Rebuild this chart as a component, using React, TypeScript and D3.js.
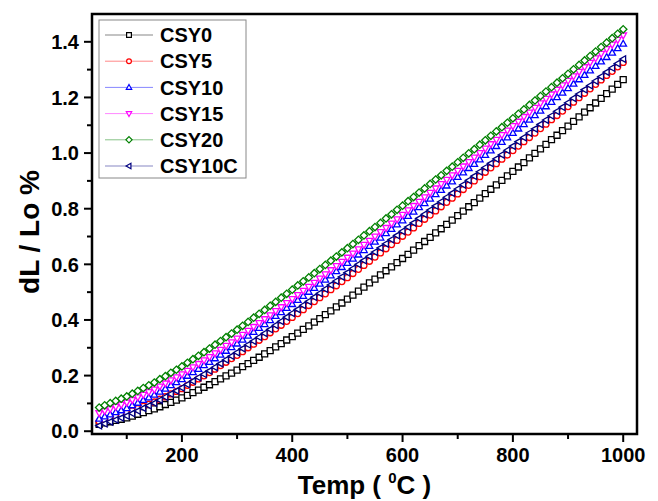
import React from 'react';
import * as d3 from 'd3';

// Temperature grid (°C)
const temps: number[] = d3.range(50, 1001, 10);

const csy0: number[] = [
  0.025, 0.030, 0.034, 0.039, 0.043, 0.048, 0.054, 0.061, 0.067, 0.074,
  0.080, 0.088, 0.096, 0.104, 0.112, 0.120, 0.129, 0.139, 0.148, 0.158,
  0.167, 0.178, 0.188, 0.199, 0.209, 0.220, 0.232, 0.243, 0.255, 0.266,
  0.278, 0.290, 0.303, 0.315, 0.328, 0.340, 0.353, 0.366, 0.379, 0.392,
  0.405, 0.419, 0.433, 0.447, 0.461, 0.475, 0.489, 0.504, 0.518, 0.533,
  0.547, 0.562, 0.577, 0.591, 0.606, 0.621, 0.636, 0.651, 0.667, 0.682,
  0.697, 0.713, 0.728, 0.744, 0.759, 0.775, 0.791, 0.807, 0.822, 0.838,
  0.854, 0.870, 0.886, 0.902, 0.918, 0.934, 0.950, 0.966, 0.983, 0.999,
  1.015, 1.031, 1.048, 1.064, 1.081, 1.097, 1.114, 1.130, 1.147, 1.163,
  1.180, 1.197, 1.214, 1.230, 1.247, 1.264,
];

const csy5: number[] = [
  0.035, 0.041, 0.047, 0.053, 0.059, 0.065, 0.073, 0.081, 0.089, 0.097,
  0.105, 0.115, 0.124, 0.134, 0.143, 0.153, 0.165, 0.176, 0.188, 0.199,
  0.211, 0.223, 0.236, 0.248, 0.261, 0.273, 0.286, 0.300, 0.313, 0.327,
  0.340, 0.354, 0.368, 0.381, 0.395, 0.409, 0.423, 0.437, 0.452, 0.466,
  0.480, 0.494, 0.509, 0.523, 0.538, 0.552, 0.567, 0.582, 0.596, 0.611,
  0.626, 0.641, 0.656, 0.671, 0.686, 0.701, 0.716, 0.731, 0.747, 0.762,
  0.777, 0.792, 0.807, 0.823, 0.838, 0.853, 0.869, 0.884, 0.900, 0.915,
  0.931, 0.947, 0.962, 0.978, 0.993, 1.009, 1.025, 1.041, 1.056, 1.072,
  1.088, 1.104, 1.120, 1.135, 1.151, 1.167, 1.183, 1.199, 1.215, 1.231,
  1.247, 1.263, 1.279, 1.294, 1.310, 1.326,
];

const csy10: number[] = [
  0.045, 0.053, 0.060, 0.068, 0.075, 0.083, 0.093, 0.102, 0.112, 0.121,
  0.131, 0.142, 0.153, 0.165, 0.176, 0.187, 0.199, 0.212, 0.224, 0.237,
  0.249, 0.262, 0.275, 0.289, 0.302, 0.315, 0.329, 0.343, 0.357, 0.371,
  0.385, 0.399, 0.414, 0.428, 0.443, 0.457, 0.472, 0.486, 0.501, 0.515,
  0.530, 0.545, 0.560, 0.575, 0.590, 0.605, 0.620, 0.635, 0.651, 0.666,
  0.681, 0.696, 0.712, 0.727, 0.743, 0.758, 0.774, 0.789, 0.805, 0.820,
  0.836, 0.852, 0.867, 0.883, 0.898, 0.914, 0.930, 0.946, 0.961, 0.977,
  0.993, 1.009, 1.025, 1.040, 1.056, 1.072, 1.088, 1.104, 1.120, 1.136,
  1.152, 1.168, 1.184, 1.201, 1.217, 1.233, 1.249, 1.265, 1.281, 1.297,
  1.313, 1.329, 1.345, 1.361, 1.377, 1.393,
];

const csy15: number[] = [
  0.065, 0.073, 0.080, 0.088, 0.095, 0.103, 0.112, 0.122, 0.131, 0.141,
  0.150, 0.161, 0.172, 0.183, 0.194, 0.205, 0.217, 0.230, 0.242, 0.255,
  0.267, 0.280, 0.293, 0.307, 0.320, 0.333, 0.347, 0.361, 0.375, 0.389,
  0.403, 0.417, 0.432, 0.446, 0.461, 0.475, 0.490, 0.505, 0.519, 0.534,
  0.549, 0.564, 0.579, 0.594, 0.609, 0.624, 0.639, 0.654, 0.670, 0.685,
  0.700, 0.716, 0.731, 0.747, 0.762, 0.778, 0.794, 0.810, 0.825, 0.841,
  0.857, 0.873, 0.889, 0.904, 0.920, 0.936, 0.952, 0.968, 0.984, 1.000,
  1.016, 1.032, 1.048, 1.065, 1.081, 1.097, 1.113, 1.130, 1.146, 1.163,
  1.179, 1.195, 1.211, 1.228, 1.244, 1.260, 1.276, 1.292, 1.309, 1.325,
  1.341, 1.357, 1.374, 1.390, 1.407, 1.423,
];

const csy20: number[] = [
  0.085, 0.093, 0.101, 0.109, 0.117, 0.125, 0.135, 0.145, 0.155, 0.165,
  0.175, 0.187, 0.198, 0.210, 0.221, 0.233, 0.246, 0.259, 0.271, 0.284,
  0.297, 0.311, 0.324, 0.338, 0.351, 0.365, 0.379, 0.393, 0.408, 0.422,
  0.436, 0.451, 0.465, 0.480, 0.494, 0.509, 0.524, 0.539, 0.553, 0.568,
  0.583, 0.598, 0.613, 0.628, 0.643, 0.658, 0.673, 0.688, 0.704, 0.719,
  0.734, 0.749, 0.765, 0.780, 0.796, 0.811, 0.827, 0.842, 0.858, 0.873,
  0.889, 0.905, 0.920, 0.936, 0.951, 0.967, 0.983, 0.999, 1.014, 1.030,
  1.046, 1.062, 1.078, 1.093, 1.109, 1.125, 1.141, 1.157, 1.173, 1.189,
  1.205, 1.221, 1.237, 1.253, 1.269, 1.285, 1.301, 1.317, 1.333, 1.349,
  1.365, 1.381, 1.397, 1.413, 1.429, 1.445,
];

const csy10c: number[] = [
  0.020, 0.027, 0.034, 0.041, 0.048, 0.055, 0.064, 0.073, 0.083, 0.092,
  0.101, 0.112, 0.123, 0.134, 0.145, 0.156, 0.168, 0.180, 0.193, 0.205,
  0.217, 0.230, 0.243, 0.257, 0.270, 0.283, 0.297, 0.311, 0.324, 0.338,
  0.352, 0.366, 0.381, 0.395, 0.410, 0.424, 0.438, 0.453, 0.467, 0.482,
  0.496, 0.511, 0.526, 0.540, 0.555, 0.570, 0.585, 0.600, 0.614, 0.629,
  0.644, 0.659, 0.674, 0.689, 0.704, 0.719, 0.734, 0.749, 0.765, 0.780,
  0.795, 0.810, 0.825, 0.841, 0.856, 0.871, 0.886, 0.902, 0.917, 0.933,
  0.948, 0.963, 0.979, 0.994, 1.010, 1.025, 1.041, 1.056, 1.072, 1.087,
  1.103, 1.119, 1.134, 1.150, 1.165, 1.181, 1.197, 1.212, 1.228, 1.243,
  1.259, 1.275, 1.291, 1.306, 1.322, 1.338,
];

const seriesNames: string[] = ['CSY0', 'CSY5', 'CSY10', 'CSY15', 'CSY20', 'CSY10C'];
const seriesValues: number[][] = [csy0, csy5, csy10, csy15, csy20, csy10c];
const seriesColors: string[] = ['#000000', '#ff0000', '#0000ff', '#ff00ff', '#008000', '#000080'];
const seriesShapes: string[] = ['square', 'circle', 'triUp', 'triDown', 'diamond', 'triLeft'];

const xMajorTicks: number[] = [200, 400, 600, 800, 1000];
const xMinorTicks: number[] = [100, 300, 500, 700, 900];
const yMajorTicks: number[] = [0, 0.2, 0.4, 0.6, 0.8, 1.0, 1.2, 1.4];
const yMinorTicks: number[] = [0.1, 0.3, 0.5, 0.7, 0.9, 1.1, 1.3];

const W = 658;
const H = 501;
const left = 92;
const right = 637;
const top = 14;
const bottom = 434;
const FONT = "'Liberation Sans', Arial, sans-serif";

function Marker({ shape, x, y, color, r = 3.0, sw = 1.3 }: { shape: string; x: number; y: number; color: string; r?: number; sw?: number }) {
  let d = '';
  if (shape === 'circle') {
    return <circle cx={x} cy={y} r={r} fill="white" stroke={color} strokeWidth={sw} />;
  } else if (shape === 'square') {
    d = `M${x - r},${y - r}h${2 * r}v${2 * r}h${-2 * r}Z`;
  } else if (shape === 'triUp') {
    d = `M${x},${y - r - 0.5}L${x + r + 0.3},${y + r * 0.8}L${x - r - 0.3},${y + r * 0.8}Z`;
  } else if (shape === 'triDown') {
    d = `M${x},${y + r + 0.5}L${x + r + 0.3},${y - r * 0.8}L${x - r - 0.3},${y - r * 0.8}Z`;
  } else if (shape === 'triLeft') {
    d = `M${x - r - 0.5},${y}L${x + r * 0.8},${y - r - 0.3}L${x + r * 0.8},${y + r + 0.3}Z`;
  } else if (shape === 'diamond') {
    const q = r + 0.7;
    d = `M${x},${y - q}L${x + q},${y}L${x},${y + q}L${x - q},${y}Z`;
  }
  return <path d={d} fill="white" stroke={color} strokeWidth={sw} />;
}

export default function App() {
  const x = d3.scaleLinear().domain([37, 1025]).range([left, right]);
  const y = d3.scaleLinear().domain([-0.01, 1.5]).range([bottom, top]);
  const line = d3
    .line<number>()
    .x((_, i) => x(temps[i]))
    .y((v) => y(v));

  const legendX = 99;
  const legendY = 20;
  const legendW = 147;
  const legendH = 158;
  const rowH = 26.2;

  return (
    <svg
      width={W}
      height={H}
      style={{ position: 'absolute', left: 0, top: 0, background: 'white' }}
      fontFamily={FONT}
    >
      <rect x={0} y={0} width={W} height={H} fill="white" />
      {/* series */}
      {seriesValues.map((vals, si) => (
        <g key={seriesNames[si]}>
          <path d={line(vals) || ''} fill="none" stroke={seriesColors[si]} strokeWidth={0.8} />
          {vals.map((v, i) => (
            <Marker key={i} shape={seriesShapes[si]} x={x(temps[i])} y={y(v)} color={seriesColors[si]} />
          ))}
        </g>
      ))}

      {/* frame */}
      <rect x={left} y={top} width={right - left} height={bottom - top} fill="none" stroke="black" strokeWidth={2.5} />

      {/* y ticks */}
      {yMajorTicks.map((t) => (
        <g key={'ym' + t}>
          <line x1={left - 8} x2={left} y1={y(t)} y2={y(t)} stroke="black" strokeWidth={2} />
          <text x={left - 13} y={y(t)} dy="0.36em" textAnchor="end" fontSize={20} fontWeight="bold">
            {t.toFixed(1)}
          </text>
        </g>
      ))}
      {yMinorTicks.map((t) => (
        <line key={'yn' + t} x1={left - 5} x2={left} y1={y(t)} y2={y(t)} stroke="black" strokeWidth={2} />
      ))}

      {/* x ticks */}
      {xMajorTicks.map((t) => (
        <g key={'xm' + t}>
          <line x1={x(t)} x2={x(t)} y1={bottom} y2={bottom + 8} stroke="black" strokeWidth={2} />
          <text x={x(t)} y={bottom + 28} textAnchor="middle" fontSize={20} fontWeight="bold">
            {t}
          </text>
        </g>
      ))}
      {xMinorTicks.map((t) => (
        <line key={'xn' + t} x1={x(t)} x2={x(t)} y1={bottom} y2={bottom + 5} stroke="black" strokeWidth={2} />
      ))}

      {/* axis titles */}
      <text
        transform={`translate(39,${(top + bottom) / 2 + 8}) rotate(-90)`}
        textAnchor="middle"
        fontSize={28}
        fontWeight="bold"
      >
        dL / Lo %
      </text>
      <text x={(left + right) / 2} y={494} textAnchor="middle" fontSize={26} fontWeight="bold">
        {'Temp (\u00A0'}
        <tspan dy={-11} fontSize={15}>0</tspan>
        <tspan dy={11}>{'C )'}</tspan>
      </text>

      {/* legend */}
      <rect x={legendX} y={legendY} width={legendW} height={legendH} fill="white" stroke="#888" strokeWidth={1} />
      {seriesNames.map((name, i) => {
        const cy = legendY + 15 + i * rowH;
        return (
          <g key={'lg' + name}>
            <line x1={105} x2={153} y1={cy} y2={cy} stroke={seriesColors[i]} strokeWidth={0.8} strokeOpacity={0.6} />
            <Marker shape={seriesShapes[i]} x={129} y={cy} color={seriesColors[i]} r={2.4} sw={1.2} />
            <text x={160} y={cy} dy="0.36em" fontSize={20} fontWeight="bold">
              {name}
            </text>
          </g>
        );
      })}
    </svg>
  );
}
